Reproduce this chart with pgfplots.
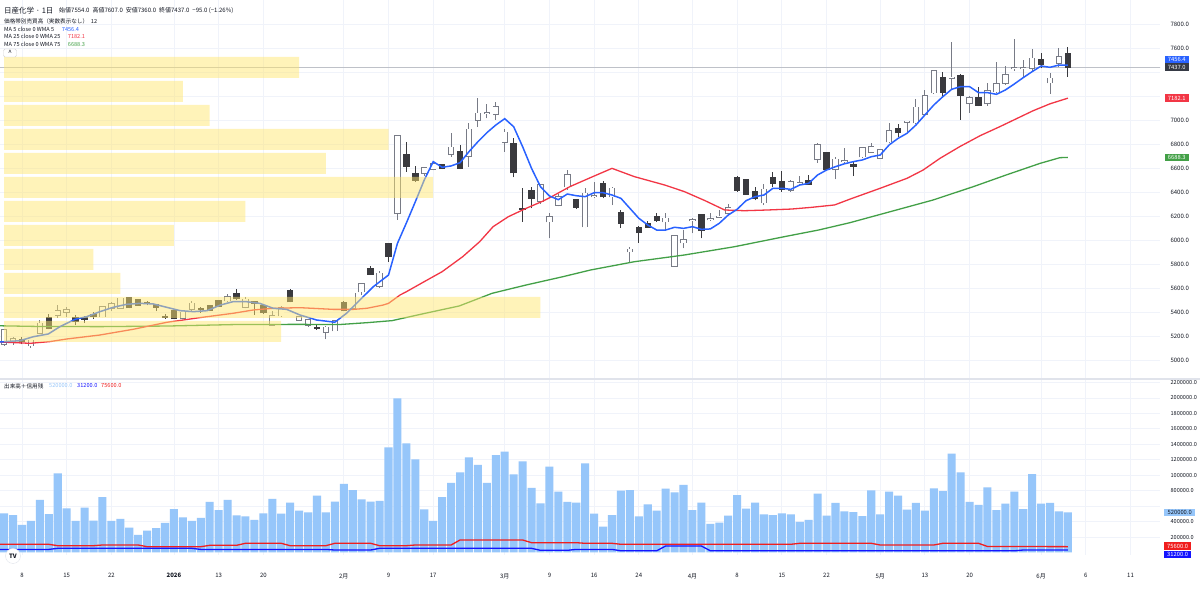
\documentclass[border=0pt]{standalone}
\usepackage{pgfplots}
\pgfplotsset{compat=1.18}
\usepackage{pgfplotstable}
\usepackage{fontspec}
\setmainfont{Noto Sans CJK JP}
\newcommand{\sz}{\fontsize{6}{7}\selectfont}
\definecolor{txt}{RGB}{19,23,34}
\definecolor{gridc}{RGB}{240,243,250}
\definecolor{upb}{RGB}{120,123,134}
\definecolor{dn}{RGB}{58,58,62}
\definecolor{mablue}{RGB}{41,98,255}
\definecolor{mared}{RGB}{242,54,69}
\definecolor{magreen}{RGB}{67,160,71}
\definecolor{vpc}{RGB}{255,230,110}
\definecolor{volc}{RGB}{150,198,250}
\definecolor{vred}{RGB}{240,30,30}
\definecolor{vblue}{RGB}{20,20,255}
\definecolor{sepc}{RGB}{224,227,235}
\definecolor{pline}{RGB}{190,193,200}
\definecolor{tagdark}{RGB}{54,58,69}

\pgfplotstableread{
i o h l c
0 5130 5260 5120 5250
1 5160 5195 5125 5175
3 5120 5170 5103 5163
4 5222 5335 5215 5305
6 5375 5455 5350 5408
7 5400 5440 5360 5415
11 5362 5445 5355 5440
12 5432 5485 5410 5465
13 5432 5516 5425 5514
20 5347 5400 5340 5397
21 5425 5490 5410 5472
25 5495 5550 5485 5528
27 5440 5525 5430 5505
30 5292 5408 5290 5370
31 5370 5450 5360 5436
33 5335 5370 5325 5360
34 5292 5345 5275 5333
36 5231 5280 5172 5272
37 5244 5330 5240 5325
39 5431 5560 5425 5556
40 5569 5645 5540 5633
42 5617 5740 5600 5722
44 6222 6875 6167 6869
47 6556 6610 6530 6603
48 6590 6640 6580 6633
50 6714 6889 6694 6772
52 6700 6972 6606 6922
53 7000 7180 6940 7056
54 7058 7133 7014 7062
55 7047 7153 7000 7111
56 6814 6922 6736 6897
60 6325 6470 6300 6458
61 6153 6228 6014 6194
62 6292 6380 6280 6361
63 6444 6583 6417 6542
65 6111 6431 6105 6389
66 6362 6486 6347 6370
68 6361 6440 6290 6431
70 5903 5944 5819 5922
74 6153 6222 6086 6181
75 5783 6040 5780 6033
76 5978 6083 5931 6000
77 6164 6181 6056 6170
79 6170 6222 6160 6175
80 6192 6250 6188 6196
81 6222 6300 6215 6269
85 6311 6470 6290 6422
88 6417 6500 6400 6486
89 6470 6530 6460 6476
91 6672 6811 6644 6792
93 6589 6694 6506 6672
94 6655 6764 6639 6662
96 6694 6775 6685 6769
97 6731 6805 6725 6778
98 6681 6760 6675 6750
99 6819 6972 6806 6908
101 6983 6995 6889 6989
102 6978 7172 6970 7106
103 7050 7250 7040 7200
104 7228 7410 7220 7408
106 7350 7653 7250 7356
108 7139 7200 7061 7186
110 7139 7308 7120 7244
111 7236 7481 7225 7300
112 7306 7450 7290 7375
113 7428 7672 7410 7434
114 7428 7500 7361 7434
115 7431 7589 7410 7514
117 7311 7389 7217 7347
118 7472 7597 7440 7528
}\upc

\pgfplotstableread{
i o h l c
2 5172 5195 5130 5152
5 5353 5381 5255 5264
8 5350 5375 5290 5320
9 5355 5370 5310 5340
10 5380 5400 5345 5365
14 5519 5522 5430 5436
15 5500 5505 5450 5455
16 5478 5490 5455 5470
17 5464 5470 5408 5440
18 5365 5380 5345 5358
19 5408 5415 5340 5345
22 5428 5440 5395 5422
23 5450 5455 5405 5410
24 5494 5500 5440 5444
26 5556 5592 5500 5510
28 5486 5495 5375 5472
29 5453 5460 5385 5395
32 5575 5595 5480 5486
35 5268 5290 5250 5262
38 5478 5490 5405 5411
41 5764 5780 5710 5717
43 5967 5975 5820 5867
45 6708 6820 6570 6617
46 6556 6617 6486 6500
49 6625 6635 6590 6600
51 6736 6790 6590 6597
57 6800 6847 6522 6561
58 6262 6431 6153 6255
59 6411 6444 6264 6347
64 6339 6345 6260 6272
67 6467 6490 6347 6361
69 6228 6250 6100 6139
71 6106 6115 5978 6061
72 6133 6160 6100 6106
73 6194 6228 6150 6161
78 6208 6215 6014 6078
82 6522 6530 6400 6417
83 6500 6505 6375 6383
84 6403 6440 6330 6347
86 6519 6570 6445 6472
87 6486 6578 6400 6422
90 6494 6540 6460 6467
92 6731 6735 6580 6589
95 6631 6661 6533 6617
100 6931 6964 6860 6894
105 7356 7400 7200 7231
107 7369 7380 7000 7203
109 7189 7272 7115 7122
116 7506 7556 7430 7464
119 7554 7607 7360 7437
}\dnc

\pgfplotstableread{
i v
0 507000
1 485000
2 356000
3 408000
4 680000
5 498000
6 1025000
7 572000
8 408000
9 580000
10 412000
11 718000
12 408000
13 434000
14 321000
15 227000
16 282000
17 317000
18 382000
19 563000
20 455000
21 408000
22 447000
23 654000
24 550000
25 680000
26 481000
27 468000
28 421000
29 507000
30 693000
31 503000
32 645000
33 541000
34 520000
35 735000
36 520000
37 658000
38 887000
39 809000
40 688000
41 658000
42 667000
43 1362000
44 1996000
45 1413000
46 1206000
47 559000
48 408000
49 718000
50 900000
51 1038000
52 1232000
53 1133000
54 900000
55 1262000
56 1305000
57 1012000
58 1180000
59 835000
60 637000
61 1111000
62 787000
63 654000
64 645000
65 1155000
66 503000
67 334000
68 485000
69 800000
70 809000
71 468000
72 623000
73 541000
74 826000
75 779000
76 874000
77 550000
78 645000
79 369000
80 386000
81 477000
82 744000
83 567000
84 645000
85 494000
86 485000
87 507000
88 494000
89 395000
90 421000
91 761000
92 477000
93 641000
94 533000
95 524000
96 472000
97 805000
98 494000
99 787000
100 735000
101 554000
102 641000
103 541000
104 831000
105 796000
106 1279000
107 1038000
108 654000
109 615000
110 844000
111 550000
112 632000
113 787000
114 563000
115 1016000
116 632000
117 641000
118 533000
119 520000
}\vol

\pgfplotstableread{
w y
33 7439.5
20 7239.5
23 7039.5
43 6839.5
36 6639.5
48 6439.5
27 6239.5
19 6039.5
10 5839.5
13 5639.5
60 5439.5
31 5239.5
}\vprof

\pgfplotsset{tvax/.style={
  scale only axis, width=1160pt, xmin=-0.4586, xmax=129.3,
  axis line style={draw=none}, tick style={draw=none},
  major grid style={draw=gridc, line width=0.8pt},
  xmajorgrids, ymajorgrids,
  xtick={2,7,12,19,24,29,38,43,48,56,61,66,71,77,82,87,92,98,103,108,116,121,126},
  yticklabel pos=right,
  tick label style={font=\sz, text=txt},
  /pgf/number format/assume math mode=true,
  yticklabel style={anchor=west, xshift=7pt,
    /pgf/number format/fixed, /pgf/number format/fixed zerofill,
    /pgf/number format/precision=1, /pgf/number format/1000 sep={}},
}}

\begin{document}
\begin{tikzpicture}
\fill[white] (0pt,0pt) rectangle (1200pt,589pt);
\useasboundingbox (0pt,0pt) rectangle (1200pt,589pt);

% ---------------- price pane ----------------
\begin{axis}[tvax, at={(0pt,211pt)}, anchor=south west, height=378pt,
  ymin=4850, ymax=8000,
  ytick={5000,5200,5400,5600,5800,6000,6200,6400,6600,6800,7000,7200,7400,7600,7800},
  yticklabels={5000.0,5200.0,5400.0,5600.0,5800.0,6000.0,6200.0,6400.0,6600.0,6800.0,7000.0,,,7600.0,7800.0},
  xticklabels={}]
\addplot[pline, line width=0.6pt] coordinates {(-1,7437) (131,7437)};
\addplot[draw=none, error bars/.cd, y dir=plus, y explicit, error mark=none,
  error bar style={draw=upb, line width=1pt}]
  table[x=i, y=l, y error expr=\thisrow{h}-\thisrow{l}] {\upc};
\addplot[draw=none, error bars/.cd, y dir=plus, y explicit, error mark=none,
  error bar style={draw=dn, line width=1pt}]
  table[x=i, y=l, y error expr=\thisrow{h}-\thisrow{l}] {\dnc};
\addplot[draw=none, error bars/.cd, y dir=plus, y explicit, error mark=none,
  error bar style={draw=upb, line width=6.4pt}]
  table[x=i, y expr=\thisrow{o}-6, y error expr=\thisrow{c}-\thisrow{o}+12] {\upc};
\addplot[draw=none, error bars/.cd, y dir=plus, y explicit, error mark=none,
  error bar style={draw=white, line width=4.6pt}]
  table[x=i, y=o, y error expr=\thisrow{c}-\thisrow{o}] {\upc};
\addplot[draw=none, error bars/.cd, y dir=plus, y explicit, error mark=none,
  error bar style={draw=dn, line width=6.4pt}]
  table[x=i, y expr=\thisrow{c}-5, y error expr=\thisrow{o}-\thisrow{c}+10] {\dnc};
\addplot[magreen, line width=1.3pt] coordinates {
(-0.46,5285) (3.27,5280) (10.7,5278) (18.2,5283) (25.6,5295) (33.1,5297) (37.4,5295)
(40.6,5311) (43.4,5328) (47.1,5389) (50.9,5450) (54.6,5556) (58.4,5625) (62.5,5694)
(65.6,5750) (70.5,5819) (76.1,5875) (81.7,5944) (87.3,6028) (91.1,6083) (94.6,6144)
(103.9,6333) (108.4,6444) (112.1,6542) (115.9,6639) (118.1,6686) (119,6688.3)};
\addplot[mared, line width=1.3pt] coordinates {
(-0.46,5150) (2.9,5139) (5.1,5153) (7,5175) (10.7,5208) (14.45,5256) (18.2,5314)
(21.9,5353) (25.6,5389) (27.9,5417) (30.1,5431) (33.1,5436) (36.8,5422) (39.1,5422)
(40.6,5431) (42.4,5458) (43,5472) (44.3,5542) (45,5569) (47,5653) (49,5736)
(51.3,5861) (53.2,5986) (54.7,6111) (56.4,6194) (58.4,6264) (60.3,6325) (61.1,6355)
(63.3,6445) (65.6,6520) (68,6597) (70.5,6528) (73.9,6458) (76.1,6403) (78.4,6328)
(80.6,6250) (82.8,6244) (85.4,6250) (88.1,6258) (90.3,6272) (92.9,6292) (94.6,6340)
(98.0,6431) (101.0,6514) (102.8,6583) (104.7,6681) (106.9,6778) (109.2,6870)
(111.4,6945) (115.1,7077) (117,7135) (119,7182.1)};
\addplot[mablue, line width=1.5pt] coordinates {
(-0.46,5150) (1.78,5161) (3.27,5194) (4.95,5217) (6.25,5278) (7.93,5339) (9.24,5361)
(10.73,5403) (12.2,5439) (13.7,5464) (15.2,5472) (16.7,5467) (18.2,5439) (19.7,5411)
(21.2,5403) (22.7,5411) (24.2,5458) (25.6,5486) (27.1,5486) (28.6,5472) (30.1,5431)
(31.6,5422) (33.1,5375) (34.97,5333) (37,5315) (38.3,5389) (39.8,5500) (41.3,5611)
(43,5708) (44,5972) (45,6142) (46,6319) (47,6500) (48,6653) (49,6606) (50,6617)
(51,6644) (52,6736) (53,6819) (54,6894) (55,6958) (56,7011) (57,6944) (58,6778)
(59,6597) (60,6444) (61,6367) (62,6336) (63,6383) (64,6369) (65,6361) (66,6394)
(67,6394) (68,6375) (69,6347) (70,6264) (71,6181) (72,6125) (73,6083) (74,6083)
(75,6106) (76,6097) (77,6111) (78,6089) (79,6092) (80,6139) (81,6208) (82,6256)
(83,6328) (84,6361) (85,6375) (86,6431) (87,6431) (88,6422) (89,6458) (90,6472)
(91,6542) (92,6583) (93,6611) (94,6635) (95,6653) (96,6667) (97,6694) (98,6708)
(99,6792) (100,6847) (101,6889) (102,6958) (103,7042) (104,7125) (105,7194)
(106,7256) (107,7278) (108,7278) (109,7228) (110,7228) (111,7214) (112,7250)
(113,7300) (114,7353) (115,7403) (116,7450) (117,7439) (118,7458) (119,7456.4)};
\addplot[xbar, bar width=175, fill=vpc, fill opacity=0.48, draw=none]
  table[x=w, y=y] {\vprof};
\end{axis}

% ---------------- volume pane ----------------
\begin{axis}[tvax, at={(0pt,34pt)}, anchor=south west, height=175pt,
  ymin=-32400, ymax=2233000, scaled y ticks=false,
  ytick={200000,400000,600000,800000,1000000,1200000,1400000,1600000,1800000,2000000,2200000},
  yticklabels={200000.0,400000.0,,800000.0,1000000.0,1200000.0,1400000.0,1600000.0,1800000.0,2000000.0,2200000.0},
  xticklabels={8,15,22,\textbf{2026},13,20,2月,9,17,3月,9,16,24,4月,8,15,22,5月,13,20,6月,6,11},
  xticklabel style={yshift=-15pt},
  yticklabel style={font=\fontsize{5.6}{6}\selectfont}]
\addplot[ybar, bar width=0.9, fill=volc, draw=none] table[x=i, y=v] {\vol};
\addplot[vred, line width=1.3pt] coordinates {
(-0.5,106000) (5,106000) (6,88000) (10,88000) (11,97000) (15,97000) (16,75000) (22,75000)
(23,93000) (26,93000) (27,119000) (31,119000) (32,88000) (36,88000) (37,119000) (41,119000)
(42,88000) (45,88000) (46,97000) (50,97000) (51,162000) (58,162000) (59,127000) (64,127000)
(65,119000) (68,119000) (69,106000) (88,106000) (89,119000) (97,119000) (98,97000) (104,97000)
(105,119000) (109,119000) (110,78000) (118,76000) (119,75600)};
\addplot[vblue, line width=1.3pt] coordinates {
(-0.5,40000) (5,40000) (6,54000) (21,54000) (22,40000) (36,40000) (37,32000) (41,32000)
(42,54000) (59,54000) (60,28000) (63,28000) (64,40000) (68,40000) (69,22000) (73,22000)
(74,84000) (78,84000) (79,22000) (113,22000) (114,32000) (119,31200)};
\end{axis}

\draw[sepc, line width=2pt] (0pt,210.3pt) -- (1200pt,210.3pt);

\node[anchor=west, inner sep=0pt, text=txt] at (4pt,578.5pt) {\fontsize{7.5}{8}\selectfont 日産化学 · 1日};
\node[anchor=west, inner sep=0pt, text=txt] at (59pt,578.5pt) {\sz 始値7554.0\enspace 高値7607.0\enspace 安値7360.0\enspace 終値7437.0\enspace −95.0 (−1.26\%)};
\node[anchor=west, inner sep=0pt, text=txt] at (4pt,567.5pt) {\fontsize{5.6}{6}\selectfont 価格帯別売買高（実数表示なし）\enspace 12};
\node[anchor=west, inner sep=0pt, text=txt] at (4pt,559.7pt) {\fontsize{5.6}{6}\selectfont MA 5 close 0 WMA 5};
\node[anchor=west, inner sep=0pt, text=mablue] at (61.7pt,559.7pt) {\fontsize{5.6}{6}\selectfont 7456.4};
\node[anchor=west, inner sep=0pt, text=txt] at (4pt,552.3pt) {\fontsize{5.6}{6}\selectfont MA 25 close 0 WMA 25};
\node[anchor=west, inner sep=0pt, text=mared] at (67.7pt,552.3pt) {\fontsize{5.6}{6}\selectfont 7182.1};
\node[anchor=west, inner sep=0pt, text=txt] at (4pt,544.7pt) {\fontsize{5.6}{6}\selectfont MA 75 close 0 WMA 75};
\node[anchor=west, inner sep=0pt, text=magreen] at (67.7pt,544.7pt) {\fontsize{5.6}{6}\selectfont 6688.3};
\node[draw=gray!35, fill=white, rounded corners=1.5pt, minimum width=13pt, minimum height=8pt, inner sep=0pt, text=txt] at (10pt,536pt) {\fontsize{7}{7}\selectfont \raisebox{-1.2pt}{\textasciicircum}};

\node[anchor=west, inner sep=0pt, text=txt] at (4pt,203pt) {\fontsize{5.6}{6}\selectfont 出来高＋信用残};
\node[anchor=west, inner sep=0pt, text=volc] at (49pt,203pt) {\fontsize{5.6}{6}\selectfont 520000.0};
\node[anchor=west, inner sep=0pt, text=vblue] at (77pt,203pt) {\fontsize{5.6}{6}\selectfont 31200.0};
\node[anchor=west, inner sep=0pt, text=vred] at (101pt,203pt) {\fontsize{5.6}{6}\selectfont 75600.0};

\tikzset{tag/.style={anchor=west, inner sep=0.5pt, minimum height=7.3pt, minimum width=24.5pt, text=white, font=\fontsize{5.8}{6}\selectfont}}
\node[tag, fill=mablue] at (1164.3pt,529.8pt) {7456.4};
\node[tag, fill=tagdark] at (1164.3pt,522pt) {7437.0};
\node[tag, fill=mared] at (1164.3pt,491pt) {7182.1};
\node[tag, fill=magreen] at (1164.3pt,431.3pt) {6688.3};
\node[tag, fill=volc, text=txt, minimum width=31pt] at (1164pt,76.8pt) {520000.0};
\node[tag, fill=vred, minimum width=27pt] at (1164pt,43pt) {75600.0};
\node[tag, fill=vblue, minimum width=27pt] at (1164pt,34.7pt) {31200.0};

\node[circle, fill=white, draw=sepc, minimum size=15pt, inner sep=0pt, text=txt] at (13pt,33pt) {\bfseries\fontsize{6}{6}\selectfont TV};
\end{tikzpicture}
\end{document}
